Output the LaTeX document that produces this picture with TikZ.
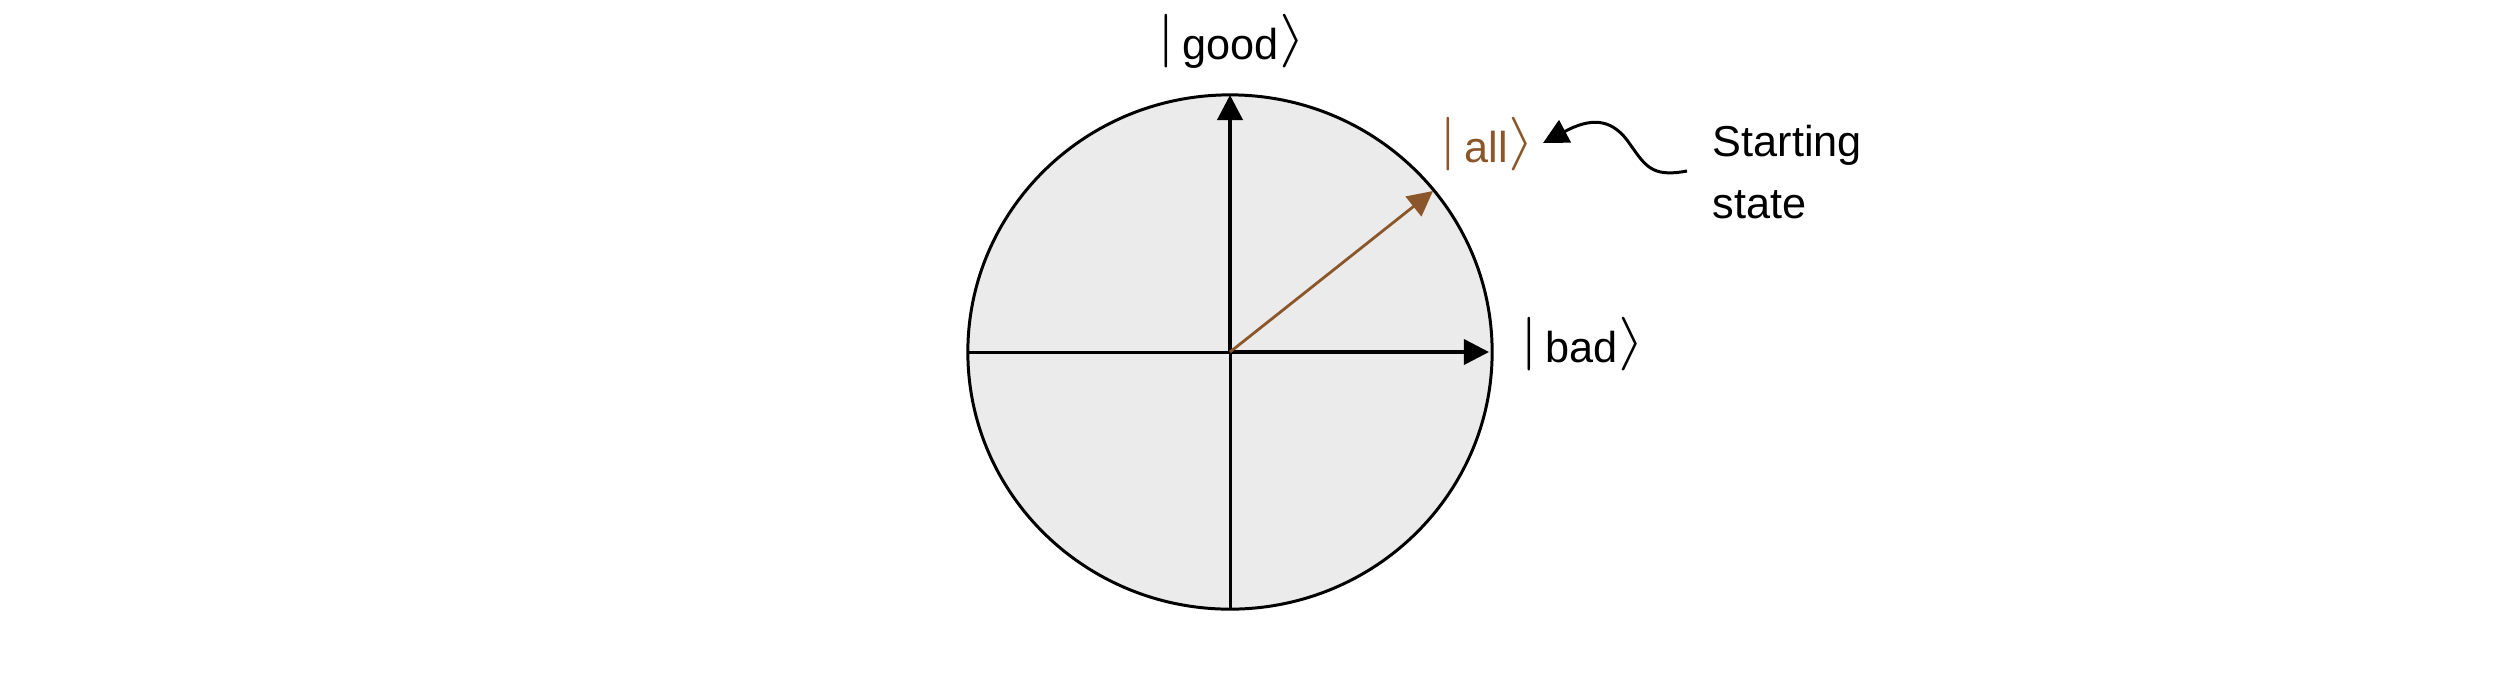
\documentclass[tikz,border=0pt]{standalone}
\usepackage{graphicx}
\usepackage{fontspec}
\setmainfont{Liberation Sans}
\usetikzlibrary{arrows.meta}
\definecolor{fillgrey}{RGB}{235,235,235}
\definecolor{brownc}{RGB}{139,87,42}
\newcommand{\myket}[1]{\raisebox{1.2pt}{\scalebox{1.5}[1.27]{$\bigl|$}}\hspace{2pt}#1\hspace{0.3pt}\raisebox{1.2pt}{\scalebox{1.6}[1.27]{$\bigr\rangle$}}}
\begin{document}
\begin{tikzpicture}[x=0.01cm,y=-0.01cm,
  lbl/.style={inner sep=0pt, anchor=base, font=\fontsize{12.3}{15}\selectfont},
  tipped/.style={-{Triangle[length=0.25cm,width=0.25cm]}},
  axis/.style={line width=0.85pt},
]
\useasboundingbox (0,0) rectangle (2520,699);
\coordinate (O) at (1230,352);
\coordinate (W) at (968,352);
\coordinate (E) at (1489,352);
\coordinate (N) at (1230,95);
\coordinate (S) at (1230,609);
\coordinate (A) at (1433,191);
\draw[axis, fill=fillgrey] (O) ellipse [x radius=2.62cm, y radius=2.57cm];
\draw[axis] (W) -- (O);
\draw[axis] (O) -- (S);
\draw[line width=1.15pt, tipped] (O) -- (N);
\draw[line width=1pt, tipped] (O) -- (E);
\draw[line width=0.8pt, brownc, tipped] (O) -- (A);

\node[lbl] (good) at (1232,59) {\myket{good}};
\node[lbl, text=brownc] (all) at (1487.5,162) {\myket{all}};
\node[lbl] (bad) at (1582.5,362) {\myket{bad}};
\node[lbl, anchor=west, align=left, font=\fontsize{12.3}{17.6}\selectfont] (start) at (1712,172) {Starting\\state};

\coordinate (ws) at (1687,171);
\coordinate (wt) at (1543,143);
\draw[line width=0.85pt, tipped] (ws) .. controls (1650,178) and (1645,165) .. (1627,140)
  .. controls (1610,118) and (1590,118) .. (wt);
\end{tikzpicture}
\end{document}
